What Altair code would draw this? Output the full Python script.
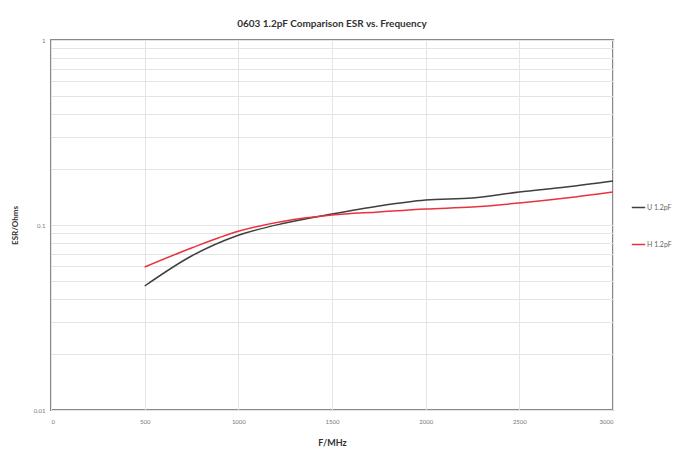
import altair as alt
import pandas as pd

freq = [500, 750, 1000, 1250, 1500, 1750, 2000, 2250, 2500, 2750, 3000]
esr_u = [0.0468, 0.0680, 0.0880, 0.1025, 0.1147, 0.1267, 0.1365, 0.1399, 0.1508, 0.1605, 0.1729]
esr_h = [0.0593, 0.0751, 0.0925, 0.1051, 0.1132, 0.1176, 0.1220, 0.1251, 0.1315, 0.1399, 0.1508]
series = ["U 1.2pF", "H 1.2pF"]
x_ticks = [0, 500, 1000, 1500, 2000, 2500, 3000]
y_grid = [0.01, 0.02, 0.03, 0.04, 0.05, 0.06, 0.07, 0.08, 0.09,
          0.1, 0.2, 0.3, 0.4, 0.5, 0.6, 0.7, 0.8, 0.9, 1]

rows = []
for f, v in zip(freq, esr_u):
    rows.append({"f": f, "esr": v, "s": series[0]})
for f, v in zip(freq, esr_h):
    rows.append({"f": f, "esr": v, "s": series[1]})
df = pd.DataFrame(rows)

FONT = "Lato"

chart = alt.Chart(df).mark_line(strokeWidth=1.5, interpolate="monotone").encode(
    x=alt.X("f:Q", title="F/MHz",
            scale=alt.Scale(domain=[0, 3000], nice=False, zero=False),
            axis=alt.Axis(values=x_ticks, grid=True, gridColor="#e4e4e4", format="d",
                          ticks=False, domain=False, labelFontSize=6,
                          labelColor="#777", labelPadding=8,
                          titleFontSize=9, titleColor="#333", titleFontWeight="bold",
                          titlePadding=14)),
    y=alt.Y("esr:Q", title="ESR/Ohms",
            scale=alt.Scale(type="log", domain=[0.01, 1], nice=False),
            axis=alt.Axis(values=y_grid, grid=True, gridColor="#e4e4e4",
                          ticks=False, domain=False, labelFontSize=6,
                          labelColor="#777", labelPadding=6,
                          labelExpr="(datum.value == 0.01 || datum.value == 0.1 || datum.value == 1) ? datum.label : ''",
                          format="~g",
                          titleFontSize=8, titleColor="#333", titleFontWeight="bold",
                          titlePadding=14)),
    color=alt.Color("s:N", sort=series,
                    scale=alt.Scale(domain=series, range=["#3f3f3f", "#e8323f"]),
                    legend=alt.Legend(title=None, orient="none", legendX=580, legendY=160,
                                      symbolType="stroke", symbolSize=180, symbolStrokeWidth=1.5,
                                      labelFontSize=7, labelColor="#666", rowPadding=26,
                                      labelOffset=1)),
).properties(
    width=562, height=370,
    title=alt.TitleParams("0603 1.2pF Comparison ESR vs. Frequency", fontSize=10,
                          fontWeight="bold", color="#333", offset=8, font=FONT),
    autosize=alt.AutoSizeParams(type="none"),
    padding={"left": 43, "top": 32, "right": 65, "bottom": 39},
).configure(
    font=FONT,
    view=alt.ViewConfig(stroke="#8a8a8a", strokeWidth=2),
)

chart.save("out.html", embed_options={"renderer": "svg", "actions": False})
